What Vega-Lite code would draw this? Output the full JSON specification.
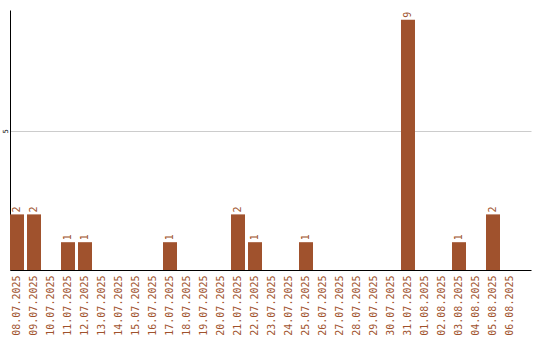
{
  "$schema": "https://vega.github.io/schema/vega-lite/v6.json",
  "width": 521,
  "height": 260,
  "autosize": "none",
  "padding": {"left": 10, "top": 10, "right": 9, "bottom": 70},
  "background": "white",
  "config": {
    "view": {"stroke": null},
    "font": "DejaVu Sans Mono"
  },
  "data": {
    "values": [
      {"date": "08.07.2025", "count": 2},
      {"date": "09.07.2025", "count": 2},
      {"date": "10.07.2025", "count": 0},
      {"date": "11.07.2025", "count": 1},
      {"date": "12.07.2025", "count": 1},
      {"date": "13.07.2025", "count": 0},
      {"date": "14.07.2025", "count": 0},
      {"date": "15.07.2025", "count": 0},
      {"date": "16.07.2025", "count": 0},
      {"date": "17.07.2025", "count": 1},
      {"date": "18.07.2025", "count": 0},
      {"date": "19.07.2025", "count": 0},
      {"date": "20.07.2025", "count": 0},
      {"date": "21.07.2025", "count": 2},
      {"date": "22.07.2025", "count": 1},
      {"date": "23.07.2025", "count": 0},
      {"date": "24.07.2025", "count": 0},
      {"date": "25.07.2025", "count": 1},
      {"date": "26.07.2025", "count": 0},
      {"date": "27.07.2025", "count": 0},
      {"date": "28.07.2025", "count": 0},
      {"date": "29.07.2025", "count": 0},
      {"date": "30.07.2025", "count": 0},
      {"date": "31.07.2025", "count": 9},
      {"date": "01.08.2025", "count": 0},
      {"date": "02.08.2025", "count": 0},
      {"date": "03.08.2025", "count": 1},
      {"date": "04.08.2025", "count": 0},
      {"date": "05.08.2025", "count": 2},
      {"date": "06.08.2025", "count": 0}
    ]
  },
  "encoding": {
    "x": {
      "field": "date",
      "type": "ordinal",
      "sort": null,
      "scale": {"paddingInner": 0.1765, "paddingOuter": 0.412, "align": 0},
      "axis": {
        "title": null,
        "labelAngle": -90,
        "labelFont": "DejaVu Sans Mono",
        "labelFontSize": 10,
        "labelColor": "#a0522d",
        "labelPadding": 5,
        "ticks": false,
        "domainColor": "#000000",
        "domainWidth": 1,
        "zindex": 1
      }
    },
    "y": {
      "field": "count",
      "type": "quantitative",
      "scale": {"domain": [0, 9.35], "nice": false},
      "axis": {
        "title": null,
        "values": [5],
        "labelAngle": -90,
        "labelAlign": "center",
        "labelBaseline": "bottom",
        "labelFontSize": 7,
        "labelColor": "#000000",
        "labelPadding": 2,
        "ticks": false,
        "domainColor": "#000000",
        "gridColor": "#cccccc",
        "gridWidth": 1
      }
    }
  },
  "layer": [
    {
      "mark": {"type": "bar", "color": "#a0522d"}
    },
    {
      "transform": [{"filter": "datum.count > 0"}],
      "mark": {
        "type": "text",
        "angle": -90,
        "align": "left",
        "baseline": "middle",
        "dx": 2,
        "font": "DejaVu Sans Mono",
        "fontSize": 10,
        "color": "#a0522d"
      },
      "encoding": {
        "text": {"field": "count", "type": "quantitative"}
      }
    }
  ]
}
